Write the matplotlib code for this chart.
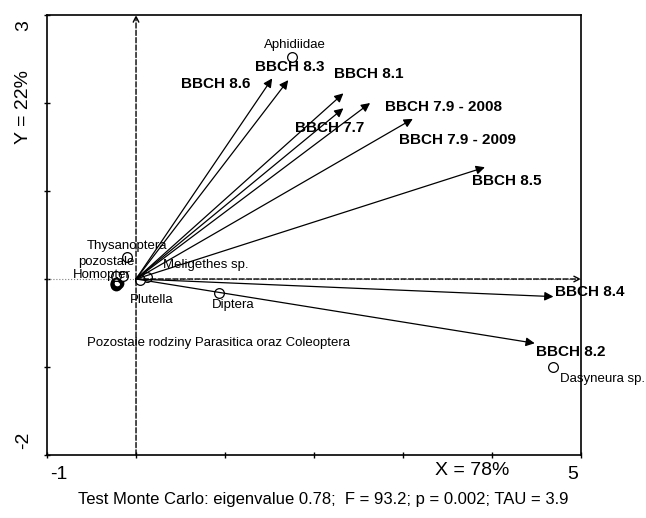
import matplotlib
matplotlib.use("Agg")
import matplotlib.pyplot as plt

plt.rcParams["font.family"] = ["Liberation Sans", "DejaVu Sans"]

# environmental vectors (BBCH growth stages)
env_names = ["BBCH 8.6", "BBCH 8.3", "BBCH 8.1", "BBCH 7.7", "BBCH 7.9 - 2008",
             "BBCH 7.9 - 2009", "BBCH 8.5", "BBCH 8.4", "BBCH 8.2"]
env_x = [1.53, 1.71, 2.33, 2.33, 2.63, 3.11, 3.92, 4.69, 4.48]
env_y = [2.28, 2.26, 2.11, 1.94, 2.00, 1.82, 1.27, -0.20, -0.73]
env_lab_x = [0.90, 1.73, 2.61, 2.18, 3.45, 3.61, 4.16, 5.10, 4.88]
env_lab_y = [2.22, 2.41, 2.33, 1.72, 1.95, 1.58, 1.11, -0.15, -0.83]

# species scores
sp_names = ["Aphidiidae", "Thysanoptera", "pozostale", "Homopter", "Meligethes sp.",
            "Plutella", "Diptera", "Dasyneura sp.",
            "Pozostale rodziny Parasitica oraz Coleoptera"]
sp_x = [1.75, -0.10, -0.15, -0.22, 0.12, 0.04, 0.93, 4.69, -0.22]
sp_y = [2.52, 0.25, 0.03, 0.03, 0.02, -0.01, -0.16, -1.00, -0.05]
sp_lab_x = [1.79, -0.10, -0.33, -0.38, 0.78, 0.18, 1.09, 5.24, 0.93]
sp_lab_y = [2.66, 0.38, 0.19, 0.04, 0.16, -0.24, -0.30, -1.14, -0.73]

# extra overlapping points in the cluster left of origin
cl_x = [-0.21, -0.23, -0.20, -0.22, -0.21]
cl_y = [-0.03, -0.06, -0.04, -0.07, -0.05]

fig = plt.figure(figsize=(6.46, 5.18), dpi=100)
ax = fig.add_axes([0.0728, 0.1216, 0.8266, 0.8494])
ax.set_xlim(-1, 5)
ax.set_ylim(-2, 3)

# axis lines through origin
ax.plot([-1, 5], [0, 0], color="gray", lw=0.8, ls=":")
ax.annotate("", xy=(5, 0), xytext=(0, 0),
            arrowprops=dict(arrowstyle="->", ls="--", lw=1, color="black",
                            shrinkA=0, shrinkB=0))
ax.annotate("", xy=(0, 3), xytext=(0, -2),
            arrowprops=dict(arrowstyle="->", ls="--", lw=1, color="black",
                            shrinkA=0, shrinkB=0))

for x, y in zip(env_x, env_y):
    ax.annotate("", xy=(x, y), xytext=(0, 0),
                arrowprops=dict(arrowstyle="-|>", lw=0.9, color="black",
                                mutation_scale=13, shrinkA=0, shrinkB=0))

for name, lx, ly in zip(env_names, env_lab_x, env_lab_y):
    ax.text(lx, ly, name, fontsize=11, fontweight="bold", ha="center",
            va="center", clip_on=False)

ax.plot(cl_x, cl_y, "o", mfc="none", mec="black", ms=7, mew=1.5)
ax.plot(sp_x[:8], sp_y[:8], "o", mfc="white", mec="black", ms=7, mew=0.9)
ax.plot(sp_x[8:], sp_y[8:], "o", mfc="none", mec="black", ms=7, mew=1.5)

for name, lx, ly in zip(sp_names, sp_lab_x, sp_lab_y):
    ax.text(lx, ly, name, fontsize=9.5, ha="center", va="center", clip_on=False)

ax.set_xticks([-1, 0, 1, 2, 3, 4, 5])
ax.set_yticks([-2, -1, 0, 1, 2, 3])
ax.tick_params(direction="inout", length=5, width=1, labelbottom=False,
               labelleft=False)
for s in ax.spines.values():
    s.set_linewidth(1.2)

# axis end labels
ax.text(-0.97, -2.12, "-1", fontsize=14, ha="left", va="top")
ax.text(4.97, -2.12, "5", fontsize=14, ha="right", va="top")
ax.text(3.78, -2.08, "X = 78%", fontsize=14, ha="center", va="top")
ax.text(-1.17, 2.88, "3", fontsize=14, ha="right", va="center", rotation=90)
ax.text(-1.17, -1.83, "-2", fontsize=14, ha="right", va="center", rotation=90)
ax.text(-1.17, 1.95, "Y = 22%", fontsize=14, ha="right", va="center", rotation=90)

fig.text(0.5, 0.035, "Test Monte Carlo: eigenvalue 0.78;  F = 93.2; p = 0.002; TAU = 3.9",
         fontsize=12, ha="center", va="center")

fig.savefig("out.png", dpi=100)
